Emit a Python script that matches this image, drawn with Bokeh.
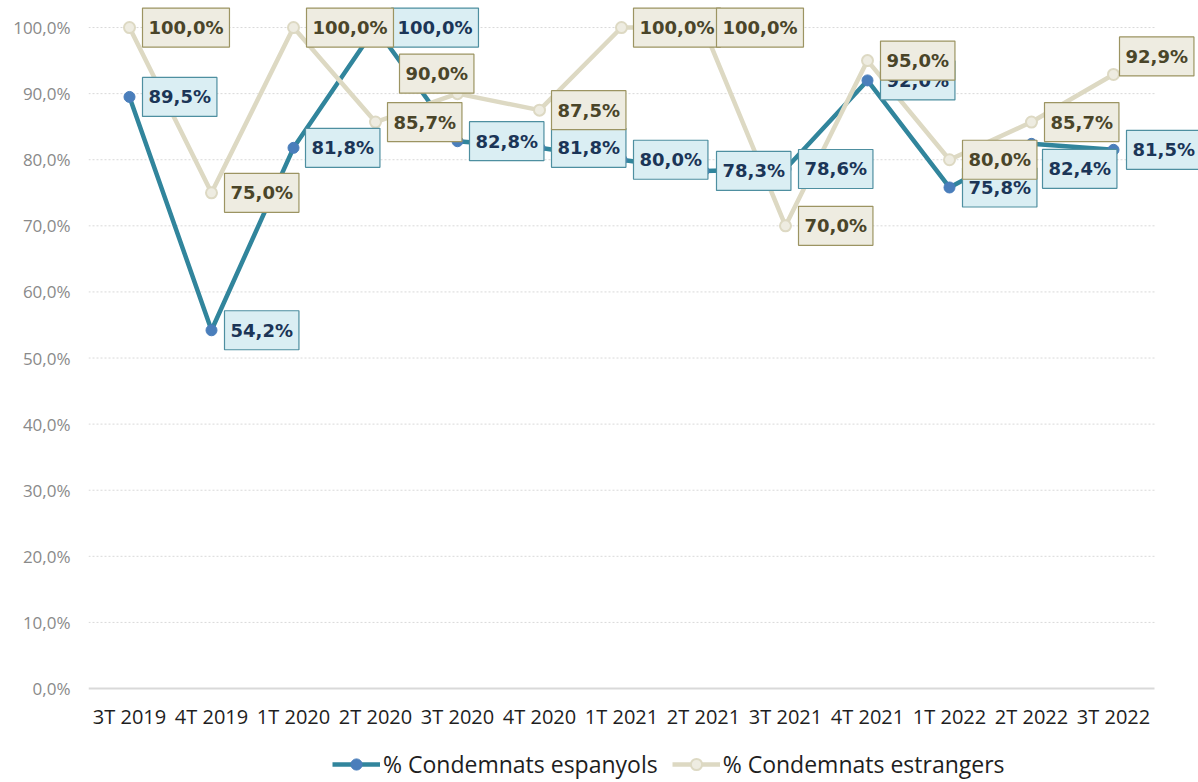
from bokeh.plotting import figure
from bokeh.layouts import column
from bokeh.models import (Range1d, FixedTicker, Legend, LegendItem, ColumnDataSource)
from bokeh.core.properties import value
from bokeh.embed import file_html
from bokeh.resources import INLINE

# ---------------- data ----------------
quarters = ["3T 2019", "4T 2019", "1T 2020", "2T 2020", "3T 2020", "4T 2020", "1T 2021",
            "2T 2021", "3T 2021", "4T 2021", "1T 2022", "2T 2022", "3T 2022"]
espanyols = [89.5, 54.2, 81.8, 100.0, 82.8, 81.8, 80.0, 78.3, 78.6, 92.0, 75.8, 82.4, 81.5]
estrangers = [100.0, 75.0, 100.0, 85.7, 90.0, 87.5, 100.0, 100.0, 70.0, 95.0, 80.0, 85.7, 92.9]
y_ticks = [0, 10, 20, 30, 40, 50, 60, 70, 80, 90, 100]
y_tick_labels = ["0,0%", "10,0%", "20,0%", "30,0%", "40,0%", "50,0%", "60,0%", "70,0%",
                 "80,0%", "90,0%", "100,0%"]
series_names = ["% Condemnats espanyols", "% Condemnats estrangers"]

# label placement offsets (screen px) of the label box relative to the point
esp_dx = [13, 13, 12, 16, 12, 12, 12, 13, 13, 13, 13, 11, 13]
esp_dy = [0, 0, 0, 0, 0, 0, 0, 0, 0, 0, 0, 25, 0]
est_dx = [13, 13, 13, 12, -58, 12, 12, 13, 13, 13, 13, 13, 6]
est_dy = [0, 0, 0, 0, -20, 0, 0, 0, 0, 0, 0, 0, -18]


def fmt(v):
    return f"{v:.1f}".replace(".", ",") + "%"


idx = list(range(len(quarters)))

TEAL = "#31859C"
BLUE_MARK = "#4A7EBB"
BEIGE = "#DDD9C3"
BEIGE_FILL = "#EEECE1"

p = figure(width=1198, height=734, output_backend="svg", toolbar_location=None,
           x_range=Range1d(-0.5, 12.5 + 44 / 82), y_range=Range1d(-0.3, 104.09),
           min_border_left=88, min_border_right=0, min_border_top=0, min_border_bottom=44)
p.outline_line_color = None
p.xgrid.visible = False
p.ygrid.visible = False

# gridlines
grid_y = y_ticks[1:]
p.segment(x0=[-0.5] * len(grid_y), x1=[len(quarters) - 0.5] * len(grid_y), y0=grid_y, y1=grid_y,
          line_color="#D9D9D9", line_width=1, line_dash="2 2")
p.segment(x0=[-0.5], x1=[len(quarters) - 0.5], y0=[0], y1=[0], line_color="#D9D9D9", line_width=2)

# axes
p.xaxis.ticker = FixedTicker(ticks=idx)
p.xaxis.major_label_overrides = {i: q for i, q in zip(idx, quarters)}
p.xaxis.axis_line_color = None
p.xaxis.major_tick_line_color = None
p.xaxis.minor_tick_line_color = None
p.xaxis.major_tick_out = 0
p.xaxis.major_tick_in = 0
p.xaxis.major_label_standoff = 12
p.xaxis.major_label_text_font = "Open Sans"
p.xaxis.major_label_text_font_size = "20px"
p.xaxis.major_label_text_color = "#1e1e1e"

p.yaxis.ticker = FixedTicker(ticks=y_ticks)
p.yaxis.major_label_overrides = {t: l for t, l in zip(y_ticks, y_tick_labels)}
p.yaxis.axis_line_color = None
p.yaxis.major_tick_line_color = None
p.yaxis.minor_tick_line_color = None
p.yaxis.major_tick_out = 0
p.yaxis.major_tick_in = 0
p.yaxis.major_label_standoff = 18
p.yaxis.major_label_text_font = "Open Sans"
p.yaxis.major_label_text_font_size = "17px"
p.yaxis.major_label_text_color = "#8a8a8a"

# lines and markers
p.line(idx, espanyols, line_color=TEAL, line_width=4.5)
p.line(idx, estrangers, line_color=BEIGE, line_width=4.5)
p.scatter(idx, espanyols, size=11, fill_color=BLUE_MARK, line_color=BLUE_MARK)
p.scatter(idx, estrangers, size=11, fill_color=BEIGE_FILL, line_color=BEIGE, line_width=2)

# data labels
src_esp = ColumnDataSource(dict(x=idx, y=espanyols, t=[fmt(v) for v in espanyols], dx=esp_dx, dy=esp_dy))
src_est = ColumnDataSource(dict(x=idx, y=estrangers, t=[fmt(v) for v in estrangers], dx=est_dx, dy=est_dy))

p.text(x="x", y="y", text="t", x_offset="dx", y_offset="dy", source=src_esp,
       text_font=value("DejaVu Sans"), text_font_style="bold", text_font_size="18px",
       text_color="#1B3557", text_align="left", text_baseline="middle",
       background_fill_color="#DAEEF3", border_line_color="#4E8FA0", border_line_width=1.2,
       padding=(6, 9))
p.text(x="x", y="y", text="t", x_offset="dx", y_offset="dy", source=src_est,
       text_font=value("DejaVu Sans"), text_font_style="bold", text_font_size="18px",
       text_color="#4A4529", text_align="left", text_baseline="middle",
       background_fill_color=BEIGE_FILL, border_line_color="#9C9462", border_line_width=1.2,
       padding=(6, 9))

# legend strip below the chart (frame aligned with the chart's frame)
pl = figure(width=1198, height=48, output_backend="svg", toolbar_location=None,
            x_range=Range1d(0, 1), y_range=Range1d(0, 1), x_axis_type=None, y_axis_type=None,
            min_border=0)
pl.outline_line_color = None
pl.xgrid.visible = False
pl.ygrid.visible = False
nan = float("nan")
lg_l1 = pl.line(x=[nan], y=[nan], line_color=TEAL, line_width=4.5)
lg_m1 = pl.scatter(x=[nan], y=[nan], size=11, fill_color=BLUE_MARK, line_color=BLUE_MARK)
lg_l2 = pl.line(x=[nan], y=[nan], line_color=BEIGE, line_width=4.5)
lg_m2 = pl.scatter(x=[nan], y=[nan], size=11, fill_color=BEIGE_FILL, line_color=BEIGE, line_width=2)

legend = Legend(items=[LegendItem(label=series_names[0], renderers=[lg_l1, lg_m1]),
                       LegendItem(label=series_names[1], renderers=[lg_l2, lg_m2])],
                location=(244, 2), orientation="horizontal")
legend.margin = 0
legend.padding = 0
legend.border_line_color = None
legend.background_fill_alpha = 0
legend.glyph_width = 48
legend.glyph_height = 28
legend.label_height = 28
legend.label_standoff = 3
legend.spacing = 14
legend.label_text_font = "Open Sans"
legend.label_text_font_size = "23px"
legend.label_text_color = "#1e1e1e"
pl.add_layout(legend)

layout = column(p, pl, spacing=0)
open("out.html", "w").write(file_html(layout, INLINE))
